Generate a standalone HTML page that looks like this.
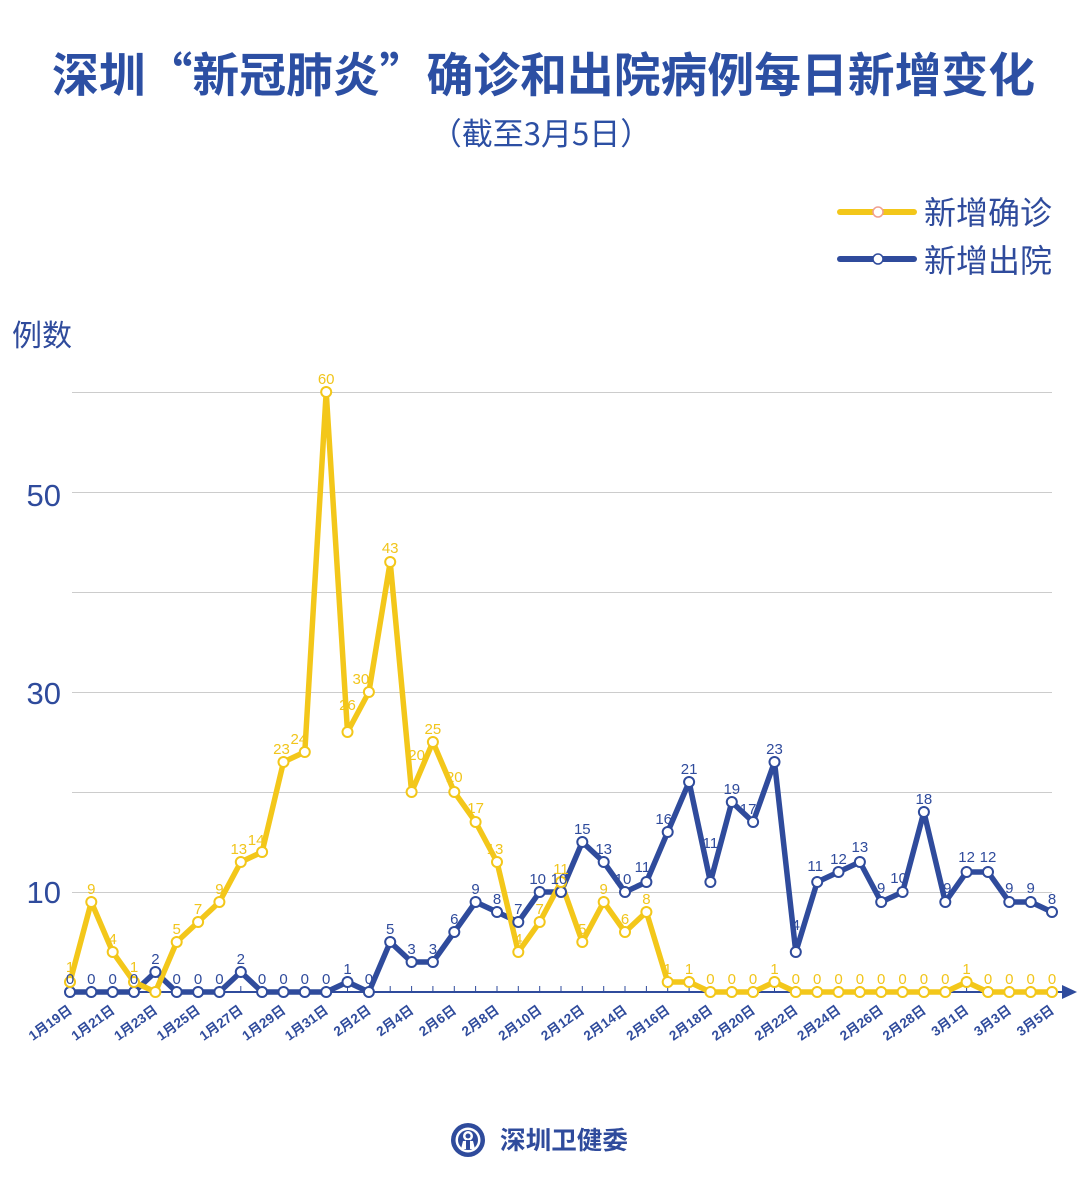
<!DOCTYPE html>
<html><head><meta charset="utf-8"><style>
html,body{margin:0;padding:0;background:#fff;}
svg{display:block;}
text{font-family:"Liberation Sans","Noto Sans CJK SC",sans-serif;}
.cjk{font-family:"Noto Sans CJK SC","Liberation Sans",sans-serif;}
.yl{fill:#f1c51c;font-size:15px;text-anchor:middle;}
.bl{fill:#2f4b9c;font-size:15px;text-anchor:middle;}
.xl{fill:#2f4b9c;font-size:13.5px;font-weight:bold;text-anchor:end;}
</style></head><body>
<svg width="1080" height="1184" viewBox="0 0 1080 1184" xmlns="http://www.w3.org/2000/svg">
<rect width="1080" height="1184" fill="#fff"/>
<!-- Title -->
<text x="52" y="92" class="cjk" font-size="47" font-weight="bold" fill="#2c4fa3" textLength="983" lengthAdjust="spacingAndGlyphs">深圳“新冠肺炎”确诊和出院病例每日新增变化</text>
<text x="541" y="145" class="cjk" font-size="31" fill="#2c4fa3" text-anchor="middle">（截至3月5日）</text>
<!-- Legend -->
<line x1="840" y1="212" x2="914" y2="212" stroke="#f3c71a" stroke-width="6" stroke-linecap="round"/>
<circle cx="878" cy="212" r="5" fill="#fff" stroke="#f0a090" stroke-width="1.5"/>
<text x="924" y="224" class="cjk" font-size="32" fill="#2f4b9c">新增确诊</text>
<line x1="840" y1="259" x2="914" y2="259" stroke="#2f4b9c" stroke-width="6" stroke-linecap="round"/>
<circle cx="878" cy="259" r="5" fill="#fff" stroke="#2f4b9c" stroke-width="1.5"/>
<text x="924" y="272" class="cjk" font-size="32" fill="#2f4b9c">新增出院</text>
<!-- Y axis title/labels -->
<text x="12" y="346" class="cjk" font-size="30" fill="#2f4b9c">例数</text>
<text x="61" y="506" font-size="31" fill="#2f4b9c" text-anchor="end">50</text>
<text x="61" y="704" font-size="31" fill="#2f4b9c" text-anchor="end">30</text>
<text x="61" y="903" font-size="31" fill="#2f4b9c" text-anchor="end">10</text>
<!-- Gridlines -->
<g stroke="#cccccc" stroke-width="1">
<line x1="72" y1="392.5" x2="1052" y2="392.5"/>
<line x1="72" y1="492.5" x2="1052" y2="492.5"/>
<line x1="72" y1="592.5" x2="1052" y2="592.5"/>
<line x1="72" y1="692.5" x2="1052" y2="692.5"/>
<line x1="72" y1="792.5" x2="1052" y2="792.5"/>
<line x1="72" y1="892.5" x2="1052" y2="892.5"/>
</g>
<!-- X axis -->
<line x1="66" y1="992" x2="1066" y2="992" stroke="#2f4b9c" stroke-width="2"/>
<polygon points="1062,985 1077,992 1062,999" fill="#2f4b9c"/>
<g stroke="#2f4b9c" stroke-width="1">
<path d="M70 986V992M91.3 986V992M112.7 986V992M134 986V992M155.4 986V992M176.7 986V992M198.1 986V992M219.4 986V992M240.8 986V992M262.1 986V992M283.5 986V992M304.8 986V992M326.2 986V992M347.5 986V992M368.9 986V992M390.2 986V992M411.6 986V992M432.9 986V992M454.3 986V992M475.6 986V992M497 986V992M518.3 986V992M539.7 986V992M561 986V992M582.3 986V992M603.7 986V992M625 986V992M646.4 986V992M667.7 986V992M689.1 986V992M710.4 986V992M731.8 986V992M753.1 986V992M774.5 986V992M795.8 986V992M817.2 986V992M838.5 986V992M859.9 986V992M881.2 986V992M902.6 986V992M923.9 986V992M945.3 986V992M966.6 986V992M988 986V992M1009.3 986V992M1030.7 986V992M1052 986V992"/>
</g>
<!-- X labels -->
<g class="cjk">
<text class="xl" transform="translate(73,1012) rotate(-36)">1月19日</text>
<text class="xl" transform="translate(115.7,1012) rotate(-36)">1月21日</text>
<text class="xl" transform="translate(158.4,1012) rotate(-36)">1月23日</text>
<text class="xl" transform="translate(201.1,1012) rotate(-36)">1月25日</text>
<text class="xl" transform="translate(243.8,1012) rotate(-36)">1月27日</text>
<text class="xl" transform="translate(286.5,1012) rotate(-36)">1月29日</text>
<text class="xl" transform="translate(329.2,1012) rotate(-36)">1月31日</text>
<text class="xl" transform="translate(371.9,1012) rotate(-36)">2月2日</text>
<text class="xl" transform="translate(414.6,1012) rotate(-36)">2月4日</text>
<text class="xl" transform="translate(457.3,1012) rotate(-36)">2月6日</text>
<text class="xl" transform="translate(500,1012) rotate(-36)">2月8日</text>
<text class="xl" transform="translate(542.7,1012) rotate(-36)">2月10日</text>
<text class="xl" transform="translate(585.3,1012) rotate(-36)">2月12日</text>
<text class="xl" transform="translate(628,1012) rotate(-36)">2月14日</text>
<text class="xl" transform="translate(670.7,1012) rotate(-36)">2月16日</text>
<text class="xl" transform="translate(713.4,1012) rotate(-36)">2月18日</text>
<text class="xl" transform="translate(756.1,1012) rotate(-36)">2月20日</text>
<text class="xl" transform="translate(798.8,1012) rotate(-36)">2月22日</text>
<text class="xl" transform="translate(841.5,1012) rotate(-36)">2月24日</text>
<text class="xl" transform="translate(884.2,1012) rotate(-36)">2月26日</text>
<text class="xl" transform="translate(926.9,1012) rotate(-36)">2月28日</text>
<text class="xl" transform="translate(969.6,1012) rotate(-36)">3月1日</text>
<text class="xl" transform="translate(1012.3,1012) rotate(-36)">3月3日</text>
<text class="xl" transform="translate(1055,1012) rotate(-36)">3月5日</text>
</g>
<!-- Blue series -->
<polyline fill="none" stroke="#2f4b9c" stroke-width="5.5" stroke-linejoin="round" points="70,992 91.3,992 112.7,992 134,992 155.4,972 176.7,992 198.1,992 219.4,992 240.8,972 262.1,992 283.5,992 304.8,992 326.2,992 347.5,982 368.9,992 390.2,942 411.6,962 432.9,962 454.3,932 475.6,902 497,912 518.3,922 539.7,892 561,892 582.3,842 603.7,862 625,892 646.4,882 667.7,832 689.1,782 710.4,882 731.8,802 753.1,822 774.5,762 795.8,952 817.2,882 838.5,872 859.9,862 881.2,902 902.6,892 923.9,812 945.3,902 966.6,872 988,872 1009.3,902 1030.7,902 1052,912"/>
<!-- Yellow series -->
<polyline fill="none" stroke="#f3c71a" stroke-width="5.5" stroke-linejoin="round" points="70,982 91.3,902 112.7,952 134,982 155.4,992 176.7,942 198.1,922 219.4,902 240.8,862 262.1,852 283.5,762 304.8,752 326.2,392 347.5,732 368.9,692 390.2,562 411.6,792 432.9,742 454.3,792 475.6,822 497,862 518.3,952 539.7,922 561,882 582.3,942 603.7,902 625,932 646.4,912 667.7,982 689.1,982 710.4,992 731.8,992 753.1,992 774.5,982 795.8,992 817.2,992 838.5,992 859.9,992 881.2,992 902.6,992 923.9,992 945.3,992 966.6,982 988,992 1009.3,992 1030.7,992 1052,992"/>
<!-- Blue markers -->
<g fill="#fff" stroke="#2f4b9c" stroke-width="2">
<circle cx="70" cy="992" r="5"/><circle cx="91.3" cy="992" r="5"/><circle cx="112.7" cy="992" r="5"/><circle cx="134" cy="992" r="5"/><circle cx="155.4" cy="972" r="5"/><circle cx="176.7" cy="992" r="5"/><circle cx="198.1" cy="992" r="5"/><circle cx="219.4" cy="992" r="5"/><circle cx="240.8" cy="972" r="5"/><circle cx="262.1" cy="992" r="5"/><circle cx="283.5" cy="992" r="5"/><circle cx="304.8" cy="992" r="5"/><circle cx="326.2" cy="992" r="5"/><circle cx="347.5" cy="982" r="5"/><circle cx="368.9" cy="992" r="5"/><circle cx="390.2" cy="942" r="5"/><circle cx="411.6" cy="962" r="5"/><circle cx="432.9" cy="962" r="5"/><circle cx="454.3" cy="932" r="5"/><circle cx="475.6" cy="902" r="5"/><circle cx="497" cy="912" r="5"/><circle cx="518.3" cy="922" r="5"/><circle cx="539.7" cy="892" r="5"/><circle cx="561" cy="892" r="5"/><circle cx="582.3" cy="842" r="5"/><circle cx="603.7" cy="862" r="5"/><circle cx="625" cy="892" r="5"/><circle cx="646.4" cy="882" r="5"/><circle cx="667.7" cy="832" r="5"/><circle cx="689.1" cy="782" r="5"/><circle cx="710.4" cy="882" r="5"/><circle cx="731.8" cy="802" r="5"/><circle cx="753.1" cy="822" r="5"/><circle cx="774.5" cy="762" r="5"/><circle cx="795.8" cy="952" r="5"/><circle cx="817.2" cy="882" r="5"/><circle cx="838.5" cy="872" r="5"/><circle cx="859.9" cy="862" r="5"/><circle cx="881.2" cy="902" r="5"/><circle cx="902.6" cy="892" r="5"/><circle cx="923.9" cy="812" r="5"/><circle cx="945.3" cy="902" r="5"/><circle cx="966.6" cy="872" r="5"/><circle cx="988" cy="872" r="5"/><circle cx="1009.3" cy="902" r="5"/><circle cx="1030.7" cy="902" r="5"/><circle cx="1052" cy="912" r="5"/>
</g>
<!-- Yellow markers -->
<g fill="#fff" stroke="#f3c71a" stroke-width="2">
<circle cx="70" cy="982" r="5"/><circle cx="91.3" cy="902" r="5"/><circle cx="112.7" cy="952" r="5"/><circle cx="134" cy="982" r="5"/><circle cx="155.4" cy="992" r="5"/><circle cx="176.7" cy="942" r="5"/><circle cx="198.1" cy="922" r="5"/><circle cx="219.4" cy="902" r="5"/><circle cx="240.8" cy="862" r="5"/><circle cx="262.1" cy="852" r="5"/><circle cx="283.5" cy="762" r="5"/><circle cx="304.8" cy="752" r="5"/><circle cx="326.2" cy="392" r="5"/><circle cx="347.5" cy="732" r="5"/><circle cx="368.9" cy="692" r="5"/><circle cx="390.2" cy="562" r="5"/><circle cx="411.6" cy="792" r="5"/><circle cx="432.9" cy="742" r="5"/><circle cx="454.3" cy="792" r="5"/><circle cx="475.6" cy="822" r="5"/><circle cx="497" cy="862" r="5"/><circle cx="518.3" cy="952" r="5"/><circle cx="539.7" cy="922" r="5"/><circle cx="561" cy="882" r="5"/><circle cx="582.3" cy="942" r="5"/><circle cx="603.7" cy="902" r="5"/><circle cx="625" cy="932" r="5"/><circle cx="646.4" cy="912" r="5"/><circle cx="667.7" cy="982" r="5"/><circle cx="689.1" cy="982" r="5"/><circle cx="710.4" cy="992" r="5"/><circle cx="731.8" cy="992" r="5"/><circle cx="753.1" cy="992" r="5"/><circle cx="774.5" cy="982" r="5"/><circle cx="795.8" cy="992" r="5"/><circle cx="817.2" cy="992" r="5"/><circle cx="838.5" cy="992" r="5"/><circle cx="859.9" cy="992" r="5"/><circle cx="881.2" cy="992" r="5"/><circle cx="902.6" cy="992" r="5"/><circle cx="923.9" cy="992" r="5"/><circle cx="945.3" cy="992" r="5"/><circle cx="966.6" cy="982" r="5"/><circle cx="988" cy="992" r="5"/><circle cx="1009.3" cy="992" r="5"/><circle cx="1030.7" cy="992" r="5"/><circle cx="1052" cy="992" r="5"/>
</g>
<!-- Blue labels -->
<g>
<text class="bl" x="70" y="984">0</text><text class="bl" x="91.3" y="984">0</text><text class="bl" x="112.7" y="984">0</text><text class="bl" x="134" y="984">0</text><text class="bl" x="155.4" y="964">2</text><text class="bl" x="176.7" y="984">0</text><text class="bl" x="198.1" y="984">0</text><text class="bl" x="219.4" y="984">0</text><text class="bl" x="240.8" y="964">2</text><text class="bl" x="262.1" y="984">0</text><text class="bl" x="283.5" y="984">0</text><text class="bl" x="304.8" y="984">0</text><text class="bl" x="326.2" y="984">0</text><text class="bl" x="347.5" y="974">1</text><text class="bl" x="368.9" y="984">0</text><text class="bl" x="390.2" y="934">5</text><text class="bl" x="411.6" y="954">3</text><text class="bl" x="432.9" y="954">3</text><text class="bl" x="454.3" y="924">6</text><text class="bl" x="475.6" y="894">9</text><text class="bl" x="497" y="904">8</text><text class="bl" x="518.3" y="914">7</text><text class="bl" x="537.7" y="884">10</text><text class="bl" x="559" y="884">10</text><text class="bl" x="582.3" y="834">15</text><text class="bl" x="603.7" y="854">13</text><text class="bl" x="623" y="884">10</text><text class="bl" x="642.4" y="872">11</text><text class="bl" x="663.7" y="824">16</text><text class="bl" x="689.1" y="774">21</text><text class="bl" x="710.4" y="848">11</text><text class="bl" x="731.8" y="794">19</text><text class="bl" x="748.1" y="814">17</text><text class="bl" x="774.5" y="754">23</text><text class="bl" x="795.8" y="930">4</text><text class="bl" x="815.2" y="871">11</text><text class="bl" x="838.5" y="864">12</text><text class="bl" x="859.9" y="852">13</text><text class="bl" x="881.2" y="893">9</text><text class="bl" x="898.6" y="883">10</text><text class="bl" x="923.9" y="804">18</text><text class="bl" x="947.3" y="893">9</text><text class="bl" x="966.6" y="862">12</text><text class="bl" x="988" y="862">12</text><text class="bl" x="1009.3" y="893">9</text><text class="bl" x="1030.7" y="893">9</text><text class="bl" x="1052" y="904">8</text>
</g>
<!-- Yellow labels -->
<g>
<text class="yl" x="70" y="972">1</text><text class="yl" x="91.3" y="894">9</text><text class="yl" x="112.7" y="944">4</text><text class="yl" x="134" y="972">1</text><text class="yl" x="176.7" y="934">5</text><text class="yl" x="198.1" y="914">7</text><text class="yl" x="219.4" y="894">9</text><text class="yl" x="238.8" y="854">13</text><text class="yl" x="256.1" y="845">14</text><text class="yl" x="281.5" y="754">23</text><text class="yl" x="298.8" y="744">24</text><text class="yl" x="326.2" y="384">60</text><text class="yl" x="347.5" y="710">26</text><text class="yl" x="360.9" y="684">30</text><text class="yl" x="390.2" y="553">43</text><text class="yl" x="416.6" y="760">20</text><text class="yl" x="432.9" y="734">25</text><text class="yl" x="454.3" y="782">20</text><text class="yl" x="475.6" y="813">17</text><text class="yl" x="495" y="854">13</text><text class="yl" x="518.3" y="944">4</text><text class="yl" x="539.7" y="914">7</text><text class="yl" x="561" y="874">11</text><text class="yl" x="582.3" y="934">5</text><text class="yl" x="603.7" y="894">9</text><text class="yl" x="625" y="924">6</text><text class="yl" x="646.4" y="904">8</text><text class="yl" x="667.7" y="974">1</text><text class="yl" x="689.1" y="974">1</text><text class="yl" x="710.4" y="984">0</text><text class="yl" x="731.8" y="984">0</text><text class="yl" x="753.1" y="984">0</text><text class="yl" x="774.5" y="974">1</text><text class="yl" x="795.8" y="984">0</text><text class="yl" x="817.2" y="984">0</text><text class="yl" x="838.5" y="984">0</text><text class="yl" x="859.9" y="984">0</text><text class="yl" x="881.2" y="984">0</text><text class="yl" x="902.6" y="984">0</text><text class="yl" x="923.9" y="984">0</text><text class="yl" x="945.3" y="984">0</text><text class="yl" x="966.6" y="974">1</text><text class="yl" x="988" y="984">0</text><text class="yl" x="1009.3" y="984">0</text><text class="yl" x="1030.7" y="984">0</text><text class="yl" x="1052" y="984">0</text>
</g>
<!-- Footer logo -->
<g>
<circle cx="468" cy="1140" r="17" fill="#2f4b9c"/>
<circle cx="468" cy="1140" r="12.5" fill="#fff"/>
<circle cx="468" cy="1140" r="10" fill="#2f4b9c"/>
<circle cx="468" cy="1136" r="5" fill="#fff"/>
<circle cx="468" cy="1136" r="2.5" fill="#2f4b9c"/>
<path d="M461 1149 L463 1141 L473 1141 L475 1149 Z" fill="#fff"/>
<rect x="466" y="1140" width="4" height="9" fill="#2f4b9c"/>
</g>
<text x="500" y="1149" class="cjk" font-size="25" font-weight="bold" fill="#2f4b9c" textLength="128" lengthAdjust="spacingAndGlyphs">深圳卫健委</text>
</svg>
</body></html>
